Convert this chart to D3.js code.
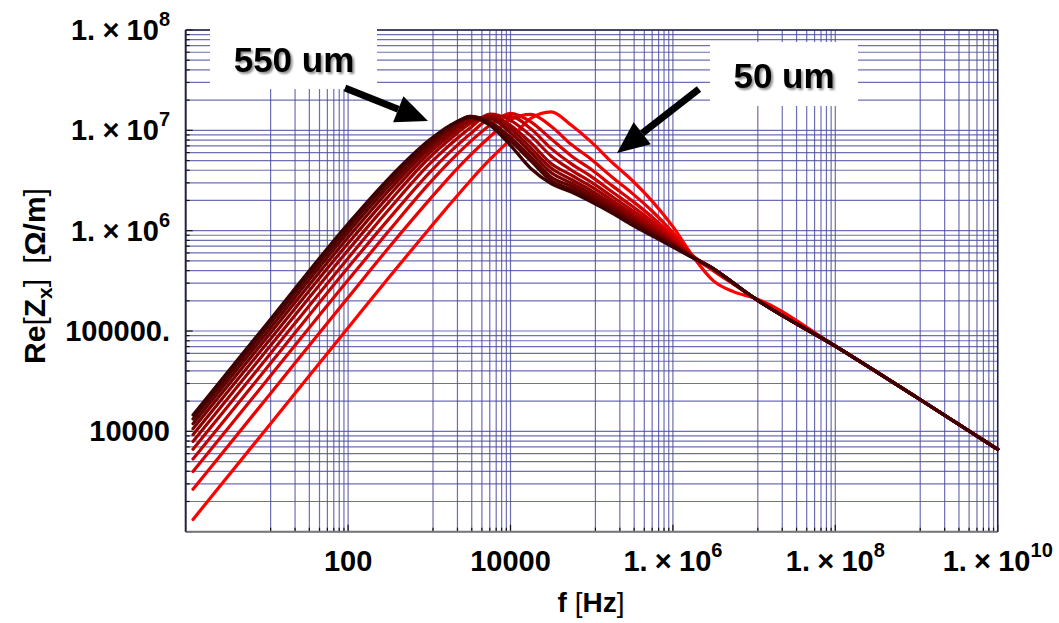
<!DOCTYPE html>
<html>
<head>
<meta charset="utf-8">
<script src="https://cdn.jsdelivr.net/npm/d3@7"></script>
<style>
  body { margin: 0; background: #fff; }
  svg { display: block; font-family: "Liberation Sans", Arial, sans-serif; font-weight: bold; }
</style>
</head>
<body>
<div id="plot"></div>
<script>
// Frequency samples (Hz), shared by every curve
const freq = [1.23, 10, 100, 316, 1000, 1780, 3160, 5620, 1e4, 1.78e4, 3.16e4, 5.62e4,
  1e5, 1.78e5, 3.16e5, 5.62e5, 1e6, 1.78e6, 3.16e6, 5.62e6, 1e7, 1e8, 1e9, 1e10];

// log10 of Re[Zx] (Ohm/m), one array per thickness
const re50  = [3.122, 4.032, 5.032, 5.532, 6.020, 6.260, 6.493, 6.712, 6.911, 7.120, 7.185, 7.05, 6.88, 6.68, 6.50, 6.29, 6.04, 5.74, 5.50, 5.39, 5.33, 4.85, 4.34, 3.82];
const re100 = [3.423, 4.333, 5.333, 5.830, 6.307, 6.537, 6.748, 6.938, 7.106, 7.16, 7.04, 6.858, 6.708, 6.534, 6.372, 6.191, 5.981, 5.745, 5.60, 5.465, 5.33, 4.85, 4.34, 3.82];
const re150 = [3.599, 4.509, 5.509, 5.996, 6.471, 6.688, 6.883, 7.053, 7.17, 7.085, 6.915, 6.745, 6.607, 6.449, 6.297, 6.132, 5.947, 5.745, 5.62, 5.475, 5.33, 4.85, 4.34, 3.82];
const re200 = [3.724, 4.634, 5.634, 6.115, 6.577, 6.780, 6.961, 7.114, 7.14, 7.015, 6.82, 6.666, 6.536, 6.388, 6.243, 6.091, 5.922, 5.741, 5.62, 5.475, 5.33, 4.85, 4.34, 3.82];
const re250 = [3.821, 4.731, 5.726, 6.208, 6.663, 6.854, 7.022, 7.161, 7.10, 6.945, 6.745, 6.604, 6.481, 6.341, 6.202, 6.059, 5.903, 5.738, 5.62, 5.475, 5.33, 4.85, 4.34, 3.82];
const re300 = [3.900, 4.810, 5.806, 6.282, 6.727, 6.908, 7.066, 7.15, 7.05, 6.875, 6.67, 6.553, 6.436, 6.303, 6.168, 6.033, 5.888, 5.735, 5.62, 5.475, 5.33, 4.85, 4.34, 3.82];
const re350 = [3.967, 4.877, 5.874, 6.345, 6.774, 6.946, 7.093, 7.135, 7.015, 6.825, 6.625, 6.510, 6.397, 6.270, 6.139, 6.011, 5.874, 5.733, 5.62, 5.475, 5.33, 4.85, 4.34, 3.82];
const re400 = [4.025, 4.935, 5.932, 6.398, 6.814, 6.979, 7.115, 7.115, 6.975, 6.78, 6.58, 6.473, 6.364, 6.242, 6.115, 5.992, 5.863, 5.731, 5.62, 5.475, 5.33, 4.85, 4.34, 3.82];
const re450 = [4.076, 4.986, 5.983, 6.444, 6.849, 7.012, 7.139, 7.085, 6.93, 6.735, 6.535, 6.441, 6.335, 6.217, 6.093, 5.975, 5.853, 5.730, 5.62, 5.475, 5.33, 4.85, 4.34, 3.82];
const re500 = [4.122, 5.032, 6.028, 6.485, 6.879, 7.033, 7.14, 7.065, 6.895, 6.695, 6.50, 6.412, 6.309, 6.195, 6.074, 5.960, 5.844, 5.728, 5.62, 5.475, 5.33, 4.85, 4.34, 3.82];
const re550 = [4.163, 5.073, 6.069, 6.520, 6.903, 7.048, 7.13, 7.05, 6.85, 6.62, 6.47, 6.385, 6.285, 6.175, 6.056, 5.946, 5.836, 5.727, 5.62, 5.475, 5.33, 4.85, 4.34, 3.82];

const thickness = [50, 100, 150, 200, 250, 300, 350, 400, 450, 500, 550];
const seriesLog = [re50, re100, re150, re200, re250, re300, re350, re400, re450, re500, re550];

// Tick labels
const xTicks = [100, 1e4, 1e6, 1e8, 1e10];
const xTickLabels = [["100"], ["10000"], ["1.\u2005\u00d7\u200510", "6"], ["1.\u2005\u00d7\u200510", "8"], ["1.\u2005\u00d7\u200510", "10"]];
const yTicks = [1e4, 1e5, 1e6, 1e7, 1e8];
const yTickLabels = [["10000"], ["100000."], ["1.\u2005\u00d7\u200510", "6"], ["1.\u2005\u00d7\u200510", "7"], ["1.\u2005\u00d7\u200510", "8"]];

const width = 1059, height = 623;
const pLeft = 185.7, pRight = 997.7, pTop = 30, pBottom = 531.7;

const svg = d3.select("#plot").append("svg")
  .attr("width", width)
  .attr("height", height);

const defs = svg.append("defs");
const shadow = defs.append("filter").attr("id", "shadow")
  .attr("x", "-10%").attr("y", "-20%").attr("width", "130%").attr("height", "150%");
shadow.append("feGaussianBlur").attr("in", "SourceAlpha").attr("stdDeviation", 1.3).attr("result", "b");
shadow.append("feOffset").attr("in", "b").attr("dx", 1.5).attr("dy", 1.5).attr("result", "o");
shadow.append("feComponentTransfer").attr("in", "o").attr("result", "s")
  .append("feFuncA").attr("type", "linear").attr("slope", 0.45);
const merge = shadow.append("feMerge");
merge.append("feMergeNode").attr("in", "s");
merge.append("feMergeNode").attr("in", "SourceGraphic");

const x = d3.scaleLog().domain([1, 1e10]).range([pLeft, pRight]);
const y = d3.scaleLog().domain([1e3, 1e8]).range([pBottom, pTop]);

// Grid lines: x gets M*k/9 below each labelled decade, y gets k*10^n
const xGrid = [];
xTicks.forEach(M => { for (let k = 1; k <= 9; k++) xGrid.push(M * k / 9); });
const yGrid = [1e8];
for (let n = 3; n <= 7; n++) for (let k = 1; k <= 9; k++) yGrid.push(k * Math.pow(10, n));

const grid = svg.append("g").attr("stroke", "#4a4aa0").attr("stroke-opacity", 0.8).attr("stroke-width", 1.2);
grid.selectAll("line.v").data(xGrid).enter().append("line")
  .attr("x1", d => x(d)).attr("x2", d => x(d))
  .attr("y1", pTop).attr("y2", pBottom);
grid.selectAll("line.h").data(yGrid).enter().append("line")
  .attr("x1", pLeft).attr("x2", pRight)
  .attr("y1", d => y(d)).attr("y2", d => y(d));

// Ticks
const ticks = svg.append("g").attr("stroke", "#111").attr("stroke-width", 1.2);
ticks.selectAll("line.xt").data(xGrid).enter().append("line")
  .attr("x1", d => x(d)).attr("x2", d => x(d))
  .attr("y1", pBottom).attr("y2", d => pBottom - (xTicks.includes(d) ? 7 : 4));
ticks.selectAll("line.yt").data(yGrid).enter().append("line")
  .attr("y1", d => y(d)).attr("y2", d => y(d))
  .attr("x1", pLeft).attr("x2", d => pLeft + (yTicks.includes(d) || d === 1e3 ? 7 : 4));

// Frame
svg.append("line").attr("x1", pLeft).attr("x2", pRight).attr("y1", pBottom).attr("y2", pBottom)
  .attr("stroke", "#777").attr("stroke-width", 2);
svg.append("line").attr("x1", pLeft).attr("x2", pLeft).attr("y1", pTop).attr("y2", pBottom)
  .attr("stroke", "#222240").attr("stroke-width", 2);
svg.append("line").attr("x1", pLeft).attr("x2", pRight).attr("y1", pTop).attr("y2", pTop)
  .attr("stroke", "#222240").attr("stroke-width", 1.5);
svg.append("line").attr("x1", pRight).attr("x2", pRight).attr("y1", pTop).attr("y2", pBottom)
  .attr("stroke", "#222240").attr("stroke-width", 1.5);

// Curves
const color = d3.scaleLinear().domain([50, 550]).range(["#ff0000", "#3c0000"]);
const line = d3.line()
  .x(d => x(d[0]))
  .y(d => y(d[1]))
  .curve(d3.curveMonotoneX);

svg.append("g").selectAll("path")
  .data(thickness.map((t, i) => ({ t, pts: freq.map((f, j) => [f, Math.pow(10, seriesLog[i][j])]) })))
  .enter().append("path")
  .attr("d", d => line(d.pts))
  .attr("fill", "none")
  .attr("stroke", d => color(d.t))
  .attr("stroke-width", 3.2)
  .attr("stroke-linejoin", "round")
  .attr("stroke-linecap", "round");

// Tick labels
function powLabel(sel, parts, supSize) {
  sel.append("tspan").text(parts[0]);
  if (parts[1]) sel.append("tspan").attr("dy", -14).style("font-size", supSize + "px").text(parts[1]);
}

xTicks.forEach((v, i) => {
  const t = svg.append("text")
    .attr("x", x(v)).attr("y", 571)
    .attr("text-anchor", "middle")
    .style("font-size", "29px");
  powLabel(t, xTickLabels[i], 20);
});

yTicks.forEach((v, i) => {
  const t = svg.append("text")
    .attr("x", 170).attr("y", y(v) + 10)
    .attr("text-anchor", "end")
    .style("font-size", "29px");
  powLabel(t, yTickLabels[i], 20);
});

// Axis titles
const xt = svg.append("text")
  .attr("x", 591).attr("y", 612)
  .attr("text-anchor", "middle")
  .style("font-size", "28px");
xt.append("tspan").text("f ");
xt.append("tspan").style("font-weight", "normal").text("[");
xt.append("tspan").text("Hz");
xt.append("tspan").style("font-weight", "normal").text("]");

const yt = svg.append("text")
  .attr("transform", "translate(45, 276) rotate(-90)")
  .attr("text-anchor", "middle")
  .style("font-size", "30px");
yt.append("tspan").text("Re");
yt.append("tspan").style("font-weight", "normal").text("[");
yt.append("tspan").text("Z");
yt.append("tspan").attr("dy", 7).style("font-size", "21px").text("x");
yt.append("tspan").attr("dy", -7).style("font-weight", "normal").text("]");
yt.append("tspan").text("\u2002");
yt.append("tspan").style("font-weight", "normal").text("[");
yt.append("tspan").text("\u03a9/m");
yt.append("tspan").style("font-weight", "normal").text("]");

// Annotation boxes and arrows
function arrow(x1, y1, x2, y2) {
  const a = Math.atan2(y2 - y1, x2 - x1);
  const hl = 32, hw = 14;
  const bx = x2 - hl * Math.cos(a), by = y2 - hl * Math.sin(a);
  svg.append("line").attr("x1", x1).attr("y1", y1).attr("x2", bx).attr("y2", by)
    .attr("stroke", "#000").attr("stroke-width", 7);
  svg.append("path")
    .attr("d", `M${x2},${y2}L${bx + hw * Math.sin(a)},${by - hw * Math.cos(a)}L${bx - hw * Math.sin(a)},${by + hw * Math.cos(a)}Z`)
    .attr("fill", "#000");
}

svg.append("rect").attr("x", 210).attr("y", 20).attr("width", 167).attr("height", 69).attr("fill", "#fff");
svg.append("rect").attr("x", 710).attr("y", 42).attr("width", 148).attr("height", 64).attr("fill", "#fff");

svg.append("text").attr("x", 294).attr("y", 72).attr("text-anchor", "middle")
  .style("font-size", "35px").attr("filter", "url(#shadow)").text("550 um");
svg.append("text").attr("x", 784).attr("y", 88).attr("text-anchor", "middle")
  .style("font-size", "35px").attr("filter", "url(#shadow)").text("50 um");

arrow(345, 88, 428, 121);
arrow(699, 89, 617, 153);
</script>
</body>
</html>
